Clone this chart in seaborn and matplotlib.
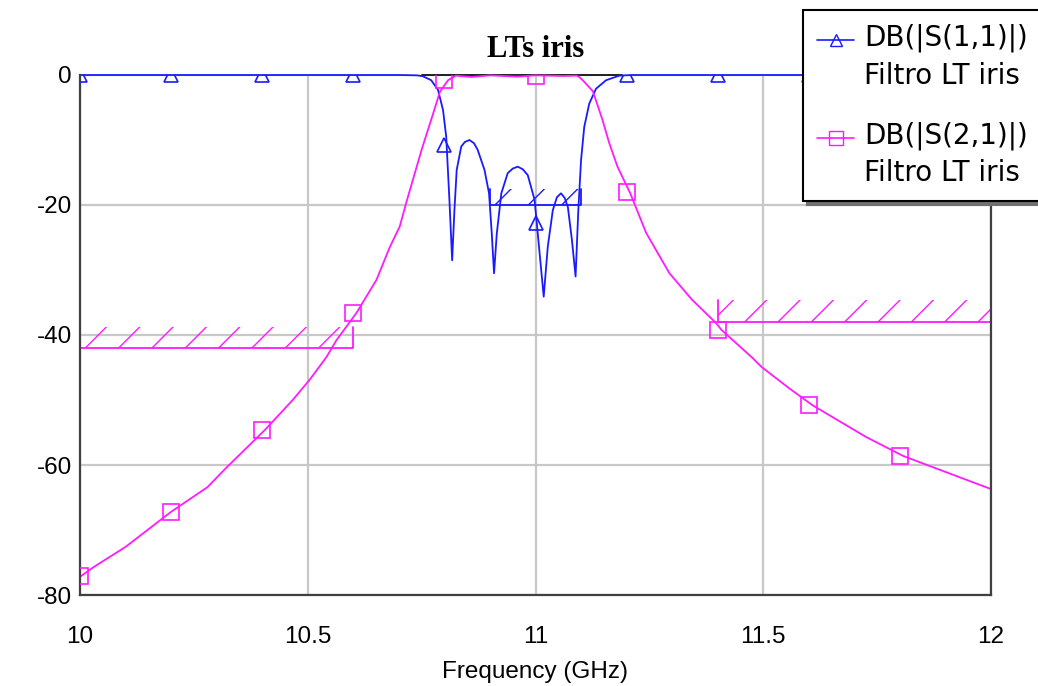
import matplotlib
matplotlib.use("Agg")
import matplotlib.pyplot as plt
import seaborn as sns
import numpy as np
from matplotlib.lines import Line2D

# ---------------- data ----------------
s11_freq = [10.0, 10.70, 10.74, 10.753, 10.771, 10.786, 10.797, 10.804, 10.811, 10.817,
            10.822, 10.827, 10.837, 10.845, 10.855, 10.865, 10.873, 10.888, 10.898, 10.904,
            10.909, 10.915, 10.925, 10.939, 10.950, 10.961, 10.972, 10.983, 10.998, 11.007,
            11.018, 11.027, 11.038, 11.047, 11.056, 11.064, 11.071, 11.080, 11.088, 11.094,
            11.100, 11.107, 11.118, 11.133, 11.155, 11.184, 11.21, 12.0]
s11_db = [0.0, 0.0, -0.05, -0.2, -0.8, -2.3, -5.4, -9.5, -19.2, -28.5,
          -20.8, -14.6, -11.0, -10.3, -10.0, -10.5, -11.5, -14.6, -18.2, -24.4,
          -30.5, -24.4, -18.2, -15.1, -14.4, -14.1, -14.5, -15.4, -19.2, -25.9,
          -34.1, -26.4, -20.8, -18.8, -18.2, -18.9, -20.3, -25.4, -31.0, -20.8,
          -13.1, -8.0, -4.4, -2.1, -0.8, -0.1, 0.0, 0.0]

s21_freq = [10.0, 10.03, 10.10, 10.20, 10.28, 10.32, 10.406, 10.467, 10.504, 10.541,
            10.563, 10.607, 10.651, 10.680, 10.702, 10.716, 10.75, 10.775, 10.79, 10.808,
            10.825, 10.86, 10.90, 10.96, 11.00, 11.06, 11.09, 11.096, 11.105, 11.126,
            11.147, 11.162, 11.18, 11.208, 11.243, 11.294, 11.344, 11.397, 11.408, 11.476,
            11.496, 11.557, 11.608, 11.726, 11.807, 11.871, 12.0]
s21_db = [-77.2, -75.7, -72.6, -67.2, -63.4, -60.5, -54.6, -50.0, -46.9, -43.4,
          -40.8, -36.6, -31.5, -26.5, -23.3, -19.7, -11.5, -6.0, -2.6, -0.8,
          -0.1, -0.3, -0.05, -0.25, -0.05, -0.15, -0.1, -0.3, -0.9, -2.5,
          -6.9, -10.5, -14.1, -18.2, -24.3, -30.5, -34.6, -38.2, -39.2, -43.5,
          -44.9, -48.2, -50.8, -55.7, -58.6, -60.3, -63.7]

marker_freq = [10.0, 10.2, 10.4, 10.6, 10.8, 11.0, 11.2, 11.4, 11.6, 11.8]
s11_marker_db = [0.0, 0.0, 0.0, 0.0, -10.8, -22.8, 0.0, 0.0, 0.0, 0.0]
s21_marker_db = [-77.0, -67.2, -54.6, -36.6, -0.8, -0.2, -18.0, -39.2, -50.8, -58.6]

# specification masks (limit line + hatched side)
spec_low_freq = [10.0, 10.6]
spec_low_db = [-42.0, -42.0]
spec_low_top = [-38.8, -38.8]
spec_high_freq = [11.4, 12.0]
spec_high_db = [-38.0, -38.0]
spec_high_top = [-34.6, -34.6]
spec_rl_freq = [10.9, 11.1]
spec_rl_db = [-20.0, -20.0]
spec_rl_top = [-17.6, -17.6]
spec_il_freq = [10.75, 11.19]
spec_il_db = [0.0, 0.0]

x_ticks = [10, 10.5, 11, 11.5, 12]
x_ticklabels = ["10", "10.5", "11", "11.5", "12"]
y_ticks = [0, -20, -40, -60, -80]

legend_labels = ["DB(|S(1,1)|)\nFiltro LT iris", "DB(|S(2,1)|)\nFiltro LT iris"]

# ---------------- style ----------------
BLUE = "#1a1aff"
MAG = "#ff1aff"

sns.set_theme(style="white")
plt.rcParams["font.family"] = ["Liberation Sans", "DejaVu Sans"]
plt.rcParams["hatch.linewidth"] = 1.0
plt.rcParams["axes.unicode_minus"] = False
plt.rcParams["text.color"] = "black"
plt.rcParams["axes.labelcolor"] = "black"

fig = plt.figure(figsize=(10.38, 6.86), dpi=100)
ax = fig.add_axes([80 / 1038, 91 / 686, 911 / 1038, 520 / 686])

# grid
ax.set_xlim(10, 12)
ax.set_ylim(-80, 0)
ax.set_xticks(x_ticks)
ax.set_xticklabels(x_ticklabels)
ax.set_yticks(y_ticks)
ax.grid(True, color="#c8c8c8", linewidth=1.6)
ax.set_axisbelow(True)

# spec masks
def spec(freq, db, top, color):
    ax.fill_between(freq, db, top, facecolor="none", edgecolor=color,
                    hatch="/", linewidth=0, zorder=1.2)
    ax.plot([freq[0], freq[0], freq[-1], freq[-1]], [top[0], db[0], db[-1], top[-1]],
            color=color, linewidth=1.3, zorder=1.3)

spec(spec_low_freq, spec_low_db, spec_low_top, MAG)
ax.fill_between(spec_high_freq, spec_high_db, spec_high_top, facecolor="none",
                edgecolor=MAG, hatch="/", linewidth=0, zorder=1.2)
ax.plot([spec_high_freq[0], spec_high_freq[0], spec_high_freq[-1]],
        [spec_high_top[0], spec_high_db[0], spec_high_db[-1]], color=MAG,
        linewidth=1.3, zorder=1.3)
spec(spec_rl_freq, spec_rl_db, spec_rl_top, BLUE)
ax.plot(spec_il_freq, spec_il_db, color="#202020", linewidth=1.4, zorder=1.4,
        clip_on=False)

# traces
sns.lineplot(x=s11_freq, y=s11_db, ax=ax, color=BLUE, linewidth=1.3, sort=False,
             estimator=None, zorder=2, clip_on=False)
sns.lineplot(x=s21_freq, y=s21_db, ax=ax, color=MAG, linewidth=1.3, sort=False,
             estimator=None, zorder=2.1, clip_on=False)
sns.lineplot(x=marker_freq, y=s11_marker_db, ax=ax, color=BLUE, linestyle="",
             marker="^", markersize=10, markerfacecolor="none", markeredgecolor=BLUE,
             markeredgewidth=1.2, estimator=None, zorder=3)
sns.lineplot(x=marker_freq, y=s21_marker_db, ax=ax, color=MAG, linestyle="",
             marker="s", markersize=11, markerfacecolor="none", markeredgecolor=MAG,
             markeredgewidth=1.2, estimator=None, zorder=3)

# axes cosmetics
for side in ["left", "bottom", "right"]:
    ax.spines[side].set_visible(True)
    ax.spines[side].set_color("#404040")
    ax.spines[side].set_linewidth(1.6)
ax.spines["top"].set_visible(False)
ax.tick_params(axis="both", length=0, labelsize=17.5, colors="black")
ax.tick_params(axis="x", pad=22)
ax.tick_params(axis="y", pad=6)
ax.set_xlabel("Frequency (GHz)", fontsize=17.5, labelpad=10, color="black")
ax.set_ylabel("")
ax.set_title("LTs iris", fontfamily="Liberation Serif", fontweight="bold",
             fontsize=22, pad=13, color="black")

# legend
h1 = Line2D([], [], color=BLUE, linewidth=1.2, marker="^", markersize=9,
            markerfacecolor="none", markeredgecolor=BLUE)
h2 = Line2D([], [], color=MAG, linewidth=1.2, marker="s", markersize=10,
            markerfacecolor="none", markeredgecolor=MAG)
leg = fig.legend([h1, h2], legend_labels, loc="upper left",
                 bbox_to_anchor=(803 / 1038, 1 - 10 / 686),
                 bbox_transform=fig.transFigure, borderaxespad=0,
                 prop={"family": "DejaVu Sans", "size": 20},
                 handlelength=1.35, handletextpad=0.35, borderpad=0.5,
                 labelspacing=1.15, frameon=True, fancybox=False, numpoints=1,
                 shadow={"ox": 3, "oy": -3, "color": "#707070", "alpha": 1})
leg.get_frame().set_edgecolor("black")
leg.get_frame().set_linewidth(1.5)
leg.get_frame().set_facecolor("white")
for t in leg.get_texts():
    t.set_linespacing(1.42)
    t.set_color("black")
# put each legend symbol next to the first line of its two-line label
for hnd in leg.legend_handles:
    hnd.set_ydata(np.asarray(hnd.get_ydata()) + 13.0)

fig.savefig("out.png", dpi=100)
